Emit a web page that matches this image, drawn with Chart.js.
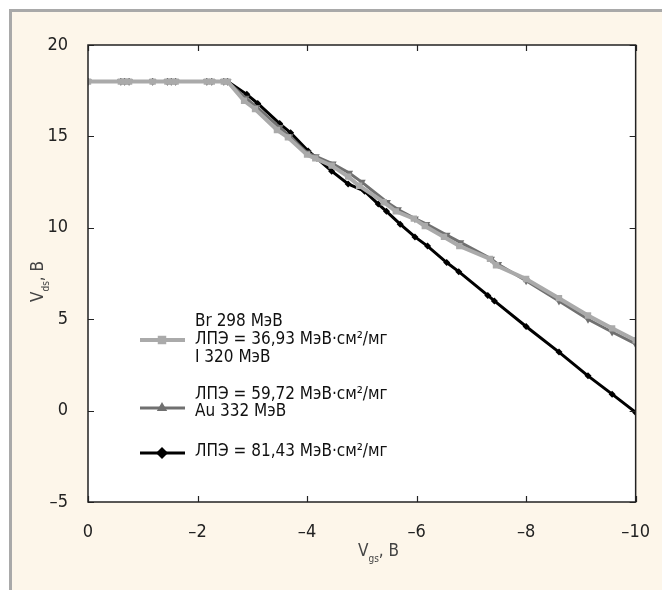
<!DOCTYPE html>
<html>
<head>
<meta charset="utf-8">
<script src="https://cdn.jsdelivr.net/npm/chart.js@4.4.1/dist/chart.umd.min.js"></script>
<style>
  html, body { margin: 0; padding: 0; background: #fff; }
  #frame {
    position: absolute; left: 9px; top: 9px; width: 653px; height: 581px;
    background: #fdf6ea; border-left: 3px solid #a9a9a9; border-top: 3px solid #a9a9a9;
    box-sizing: border-box;
  }
  #box { position: absolute; left: 0; top: 0; width: 662px; height: 590px; }
</style>
</head>
<body>
<div id="frame"></div>
<div id="box"><canvas id="chart" width="662" height="590"></canvas></div>
<script>
// Br 298 МэВ (светло-серые квадраты)
const brX = [0, -0.6, -0.67, -0.75, -1.18, -1.45, -1.52, -1.6, -2.17, -2.26, -2.48, -2.55,
  -2.85, -3.05, -3.45, -3.65, -4.0, -4.15, -4.45, -4.75, -4.95, -5.4, -5.62, -5.95, -6.15,
  -6.5, -6.78, -7.34, -7.45, -8.0, -8.6, -9.13, -9.57, -10];
const brY = [18, 18, 18, 18, 18, 18, 18, 18, 18, 18, 18, 18,
  16.95, 16.5, 15.35, 14.95, 14.0, 13.8, 13.4, 12.8, 12.3, 11.4, 10.9, 10.5, 10.1,
  9.5, 9.0, 8.3, 7.95, 7.2, 6.15, 5.2, 4.5, 3.85];

// I 320 МэВ (серые треугольники)
const iX = [0, -0.6, -0.67, -0.75, -1.18, -1.45, -1.52, -1.6, -2.17, -2.26, -2.48, -2.55,
  -2.88, -3.08, -3.5, -3.68, -4.0, -4.16, -4.47, -4.77, -5.0, -5.46, -5.66, -5.97, -6.18,
  -6.55, -6.8, -7.36, -7.49, -8.0, -8.6, -9.13, -9.57, -10];
const iY = [18, 18, 18, 18, 18, 18, 18, 18, 18, 18, 18, 18,
  17.1, 16.6, 15.5, 15.0, 14.1, 13.9, 13.5, 13.0, 12.5, 11.4, 11.0, 10.5, 10.2,
  9.6, 9.2, 8.3, 8.0, 7.1, 6.0, 5.0, 4.3, 3.65];

// Au 332 МэВ (черные ромбы)
const auX = [0, -0.6, -0.67, -0.75, -1.18, -1.45, -1.52, -1.6, -2.17, -2.26, -2.48, -2.55,
  -2.9, -3.1, -3.5, -3.7, -4.02, -4.18, -4.45, -4.75, -5.05, -5.3, -5.45, -5.7, -5.97,
  -6.2, -6.55, -6.77, -7.3, -7.42, -8.0, -8.6, -9.13, -9.57, -10];
const auY = [18, 18, 18, 18, 18, 18, 18, 18, 18, 18, 18, 18,
  17.3, 16.8, 15.7, 15.2, 14.2, 13.8, 13.1, 12.4, 12.0, 11.3, 10.9, 10.2, 9.5,
  9.0, 8.1, 7.6, 6.3, 6.0, 4.6, 3.2, 1.9, 0.9, -0.1];

const xTicks = [0, -2, -4, -6, -8, -10];
const yTicks = [20, 15, 10, 5, 0, -5];

const legendLines = [
  'Br 298 МэВ',
  'ЛПЭ = 36,93 МэВ·см²/мг',
  'I 320 МэВ',
  'ЛПЭ = 59,72 МэВ·см²/мг',
  'Au 332 МэВ',
  'ЛПЭ = 81,43 МэВ·см²/мг'
];

const FONT = '"Liberation Sans Narrow", "Arial Narrow", "DejaVu Sans Condensed", sans-serif';

function pts(xs, ys) {
  return xs.map((x, i) => ({ x: x, y: ys[i] }));
}

function fmt(v) {
  return v < 0 ? '–' + Math.abs(v) : String(v);
}

// белая область графика
const plotBg = {
  id: 'plotBg',
  beforeDraw(chart) {
    const { ctx, chartArea: a } = chart;
    ctx.save();
    ctx.fillStyle = '#ffffff';
    ctx.fillRect(a.left, a.top, a.right - a.left, a.bottom - a.top);
    ctx.restore();
  }
};

// рамка и засечки внутрь со всех сторон
const frameTicks = {
  id: 'frameTicks',
  afterDatasetsDraw(chart) {
    const { ctx, chartArea: a, scales } = chart;
    ctx.save();
    ctx.strokeStyle = '#222';
    ctx.lineWidth = 1.5;
    ctx.strokeRect(a.left, a.top, a.right - a.left, a.bottom - a.top);
    ctx.lineWidth = 1.2;
    ctx.beginPath();
    xTicks.forEach(v => {
      const px = Math.round(scales.x.getPixelForValue(v)) + 0.5;
      ctx.moveTo(px, a.top); ctx.lineTo(px, a.top + 6);
      ctx.moveTo(px, a.bottom); ctx.lineTo(px, a.bottom - 6);
    });
    yTicks.forEach(v => {
      const py = Math.round(scales.y.getPixelForValue(v)) + 0.5;
      ctx.moveTo(a.left, py); ctx.lineTo(a.left + 6, py);
      ctx.moveTo(a.right, py); ctx.lineTo(a.right - 6, py);
    });
    ctx.stroke();
    ctx.restore();
  }
};

// подписи осей с нижним индексом
function subText(ctx, x, y, main, sub, rest) {
  ctx.font = '17px ' + FONT;
  ctx.fillText(main, x, y);
  let w = ctx.measureText(main).width;
  ctx.font = '10px ' + FONT;
  ctx.fillText(sub, x + w, y + 6);
  w += ctx.measureText(sub).width;
  ctx.font = '17px ' + FONT;
  ctx.fillText(rest, x + w, y);
  return w + ctx.measureText(rest).width;
}

const axisTitles = {
  id: 'axisTitles',
  afterDraw(chart) {
    const ctx = chart.ctx;
    ctx.save();
    ctx.fillStyle = '#444';
    ctx.textBaseline = 'alphabetic';
    ctx.textAlign = 'left';
    subText(ctx, 358, 556, 'V', 'gs', ', В');
    ctx.translate(43, 302);
    ctx.rotate(-Math.PI / 2);
    subText(ctx, 0, 0, 'V', 'ds', ', В');
    ctx.restore();
  }
};

// легенда как в оригинале
const legendBox = {
  id: 'legendBox',
  afterDraw(chart) {
    const ctx = chart.ctx;
    const ds = chart.data.datasets;
    ctx.save();
    const samples = [[ds[0], 340, 6], [ds[1], 408, 6], [ds[2], 453, 6]];
    samples.forEach(([d, y, r]) => {
      ctx.strokeStyle = d.borderColor;
      ctx.fillStyle = d.backgroundColor;
      ctx.lineWidth = d.borderWidth;
      ctx.beginPath();
      ctx.moveTo(140, y); ctx.lineTo(185, y);
      ctx.stroke();
      ctx.lineWidth = 0;
      Chart.helpers.drawPoint(ctx, {
        pointStyle: d.pointStyle,
        rotation: 0,
        radius: r,
        borderWidth: 0
      }, 162, y);
    });
    ctx.fillStyle = '#111';
    ctx.font = '17px ' + FONT;
    ctx.textBaseline = 'middle';
    const ys = [322, 340, 358, 395, 412, 452];
    legendLines.forEach((t, i) => ctx.fillText(t, 195, ys[i]));
    ctx.restore();
  }
};

new Chart(document.getElementById('chart'), {
  type: 'line',
  data: {
    datasets: [
      {
        label: 'Br 298 МэВ',
        data: pts(brX, brY),
        borderColor: '#aaaaaa',
        backgroundColor: '#aaaaaa',
        borderWidth: 4,
        pointStyle: 'rect',
        pointRadius: 4.5,
        pointBorderWidth: 0
      },
      {
        label: 'I 320 МэВ',
        data: pts(iX, iY),
        borderColor: '#707070',
        backgroundColor: '#707070',
        borderWidth: 3,
        pointStyle: 'triangle',
        pointRotation: 180,
        pointRadius: 4.5,
        pointBorderWidth: 0
      },
      {
        label: 'Au 332 МэВ',
        data: pts(auX, auY),
        borderColor: '#000000',
        backgroundColor: '#000000',
        borderWidth: 3,
        pointStyle: 'rectRot',
        pointRadius: 3.5,
        pointBorderWidth: 0
      }
    ]
  },
  options: {
    responsive: false,
    animation: false,
    layout: { padding: { top: 45, right: 21, left: 0, bottom: 0 } },
    plugins: { legend: { display: false }, tooltip: { enabled: false } },
    scales: {
      x: {
        type: 'linear',
        min: -10,
        max: 0,
        reverse: true,
        afterBuildTicks: s => { s.ticks = xTicks.map(v => ({ value: v })); },
        afterFit: s => { s.height = 88; },
        grid: { display: false },
        border: { display: false },
        ticks: {
          padding: 12,
          color: '#222',
          font: { family: FONT, size: 18 },
          callback: v => fmt(v),
          maxRotation: 0
        }
      },
      y: {
        type: 'linear',
        min: -5,
        max: 20,
        afterBuildTicks: s => { s.ticks = yTicks.map(v => ({ value: v })); },
        afterFit: s => { s.width = 88; },
        grid: { display: false },
        border: { display: false },
        ticks: {
          padding: 12,
          color: '#222',
          font: { family: FONT, size: 18 },
          callback: v => fmt(v)
        }
      }
    }
  },
  plugins: [plotBg, frameTicks, axisTitles, legendBox]
});
</script>
</body>
</html>
